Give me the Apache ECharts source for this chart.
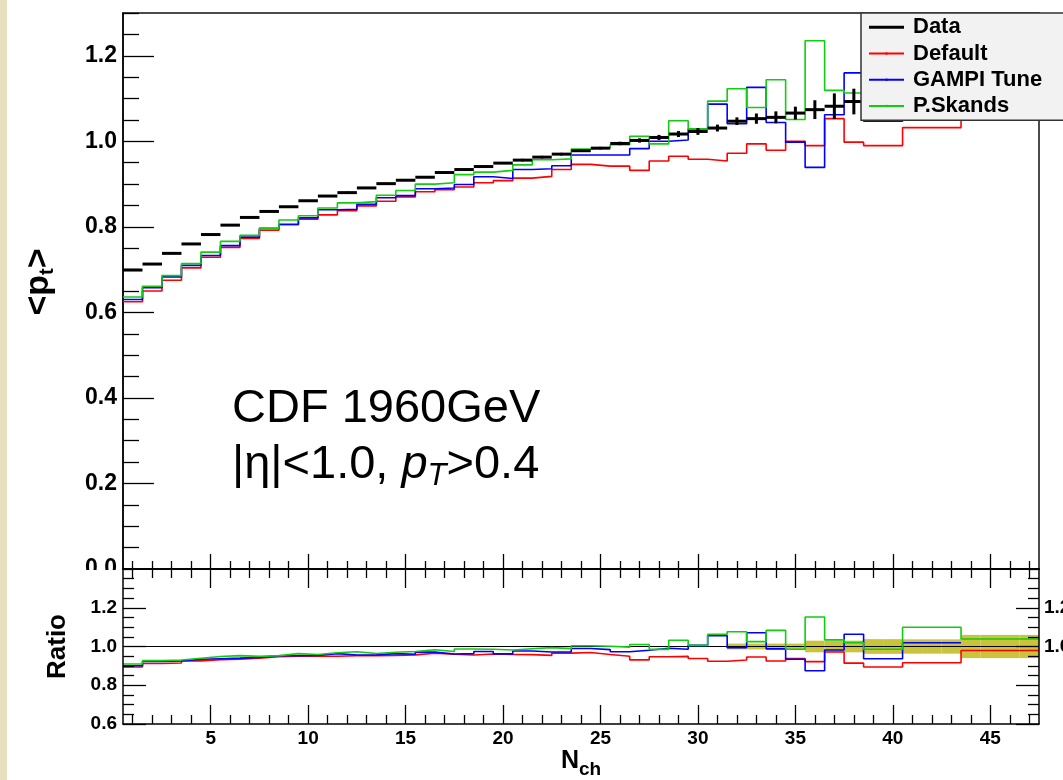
<!DOCTYPE html>
<html><head><meta charset="utf-8">
<script src="https://cdn.jsdelivr.net/npm/echarts@6/dist/echarts.min.js"></script>
<style>html,body{margin:0;padding:0;background:#fff;}#c{width:1063px;height:780px;}</style>
</head><body><div id="c"></div>
<script>
// ---- data ----
const nch = [1,2,3,4,5,6,7,8,9,10,11,12,13,14,15,16,17,18,19,20,21,22,23,24,25,26,27,28,29,30,31,32,33,34,35,36,37,38,39,40,41,42,43,44,45,46,47];
const dataVal = [0.699,0.713,0.738,0.760,0.782,0.804,0.822,0.836,0.847,0.861,
  0.872,0.880,0.891,0.901,0.909,0.916,0.927,0.934,0.941,0.949,
  0.956,0.963,0.970,0.978,0.984,0.995,1.002,1.009,1.017,1.023,
  1.031,1.047,1.053,1.056,1.066,1.074,1.082,1.093,1.103,1.110,
  1.120,1.127,1.134,1.140,1.145,1.150,1.155];
const dataErr = [0.001,0.001,0.001,0.001,0.001,0.001,0.001,0.001,0.001,0.001,
  0.002,0.002,0.002,0.002,0.002,0.002,0.002,0.002,0.002,0.002,
  0.003,0.003,0.003,0.003,0.003,0.004,0.005,0.006,0.007,0.008,
  0.008,0.009,0.012,0.014,0.015,0.022,0.030,0.030,0.035,0.040,
  0.045,0.050,0.055,0.060,0.065,0.070,0.075];
const defaultVal = [0.625,0.650,0.675,0.704,0.729,0.752,0.773,0.792,0.805,0.818,
  0.828,0.838,0.849,0.860,0.870,0.882,0.887,0.893,0.903,0.908,
  0.914,0.918,0.934,0.946,0.942,0.942,0.932,0.954,0.965,0.958,
  0.954,0.972,0.994,0.979,1.000,0.990,1.053,0.998,0.990,0.990,
  1.032,1.032,1.032,1.120,1.120,1.120,1.120];
const gampiVal = [0.630,0.658,0.683,0.710,0.733,0.756,0.776,0.796,0.806,0.821,
  0.840,0.841,0.853,0.868,0.873,0.889,0.891,0.899,0.917,0.913,
  0.934,0.936,0.943,0.968,0.968,0.968,0.983,1.000,1.003,1.029,
  1.087,1.041,1.126,1.044,0.998,0.939,1.062,1.160,1.047,1.047,
  1.148,1.148,1.148,null,null,null,null];
const skandsVal = [0.636,0.661,0.686,0.714,0.741,0.766,0.780,0.797,0.816,0.826,
  0.844,0.856,0.859,0.874,0.885,0.900,0.903,0.922,0.928,0.932,
  0.945,0.957,0.959,0.982,0.985,0.992,1.012,0.994,1.048,1.029,
  1.094,1.123,1.079,1.144,1.051,1.235,1.119,1.113,1.085,1.085,
  1.236,1.236,1.236,1.195,1.195,1.195,1.195];
const ratioDefault = [0.894,0.912,0.915,0.926,0.932,0.935,0.940,0.947,0.950,0.950,
  0.950,0.952,0.953,0.954,0.957,0.965,0.960,0.956,0.961,0.959,
  0.958,0.954,0.966,0.969,0.959,0.950,0.931,0.947,0.949,0.938,
  0.924,0.930,0.946,0.925,0.938,0.922,0.972,0.914,0.894,0.894,
  0.916,0.916,0.916,0.979,0.979,0.979,0.979];
const ratioGampi = [0.901,0.923,0.925,0.934,0.937,0.940,0.944,0.952,0.952,0.954,
  0.963,0.956,0.957,0.963,0.960,0.971,0.961,0.963,0.974,0.962,
  0.977,0.972,0.972,0.990,0.984,0.973,0.981,0.991,0.986,1.006,
  1.056,0.994,1.071,0.988,0.934,0.875,0.982,1.063,0.937,0.937,
  1.019,1.019,1.019,null,null,null,null];
const ratioSkands = [0.910,0.927,0.930,0.939,0.948,0.953,0.949,0.953,0.963,0.959,
  0.968,0.973,0.964,0.970,0.974,0.983,0.974,0.987,0.986,0.982,
  0.988,0.994,0.989,1.004,1.001,0.997,1.010,0.985,1.032,1.006,
  1.063,1.076,1.025,1.083,0.986,1.152,1.034,1.020,0.986,0.986,
  1.099,1.099,1.099,1.039,1.039,1.039,1.039];
const ratioBandErr = [0.002,0.002,0.002,0.002,0.002,0.002,0.002,0.002,0.002,0.002,
  0.002,0.002,0.002,0.002,0.002,0.002,0.002,0.002,0.002,0.002,
  0.003,0.003,0.003,0.003,0.003,0.003,0.003,0.003,0.003,0.003,
  0.003,0.015,0.015,0.015,0.015,0.030,0.030,0.030,0.038,0.038,
  0.037,0.037,0.037,0.060,0.060,0.060,0.060];
const xMajorTicks = [5,10,15,20,25,30,35,40,45];
const yMainLabels = [0.0,0.2,0.4,0.6,0.8,1.0,1.2];
const yRatioLabels = [0.6,0.8,1.0,1.2];
const yRatioRightLabels = [1.0,1.2];
const seriesNames = ['Data','Default','GAMPI Tune','P.Skands'];

// ---- helpers ----
const FONT = 'Liberation Sans, Arial, Helvetica, sans-serif';
const XMIN = nch[0] - 0.5, XMAX = nch[nch.length-1] + 0.5;
function steps(vals){
  const pts = []; let last = -1;
  vals.forEach((v,i)=>{ if (v == null) return; pts.push([nch[i]-0.5, v]); last = i; });
  if (last >= 0) pts.push([nch[last]+0.5, vals[last]]);
  return pts;
}
function minorList(lo, hi, step, majors){
  const out = [];
  const n = Math.round((hi-lo)/step);
  for (let k=0;k<=n;k++){ const v = +(lo + k*step).toFixed(3); if (!majors.some(m=>Math.abs(m-v)<1e-6)) out.push(v); }
  return out;
}
const xMinorTicks = nch.filter(n => !xMajorTicks.includes(n));
const yMainMinor = minorList(0, 1.3, 0.05, yMainLabels);
const yRatioMinor = minorList(0.6, 1.4, 0.05, yRatioLabels);

const AX = '#000';
const lab = (size) => ({fontFamily: FONT, fontWeight: 'bold', fontSize: size, color: '#000'});

function xAx(grid, pos, vals, len, opts){
  return Object.assign({
    type:'value', gridIndex:grid, position:pos, min:XMIN, max:XMAX,
    axisLine:{show:false, lineStyle:{color:AX,width:1.5}},
    axisTick:{show:true, inside:true, length:len, customValues:vals, lineStyle:{color:AX,width:1.3}},
    axisLabel:{show:false}, splitLine:{show:false}
  }, opts||{});
}
function yAx(grid, pos, min, max, vals, len, opts){
  return Object.assign({
    type:'value', gridIndex:grid, position:pos, min:min, max:max,
    axisLine:{show:false, lineStyle:{color:AX,width:1.5}},
    axisTick:{show:true, inside:true, length:len, customValues:vals, lineStyle:{color:AX,width:1.3}},
    axisLabel:{show:false}, splitLine:{show:false}
  }, opts||{});
}

const chart = echarts.init(document.getElementById('c'), null, {renderer:'canvas'});
const option = {
  animation:false,
  backgroundColor:'#fff',
  grid:[
    {left:123, top:13, width:916, height:556, show:true, borderColor:'#111', borderWidth:1.5, backgroundColor:'transparent', outerBoundsMode:'none', containLabel:false},
    {left:123, top:569, width:916, height:155, show:false, outerBoundsMode:'none', containLabel:false}
  ],
  xAxis:[
    xAx(0,'bottom',xMajorTicks,15,{axisLine:{show:true,lineStyle:{color:AX,width:1.5}}}),
    xAx(0,'bottom',xMinorTicks,8),
    xAx(1,'bottom',xMajorTicks,19,{z:5, axisLine:{show:true,lineStyle:{color:AX,width:1.5}},
      axisLabel:{show:true, customValues:xMajorTicks, margin:5, ...lab(19)},
      name:'{n|N}{c|ch}', nameLocation:'middle', nameGap:12,
      nameTextStyle:{rich:{
        n:{fontFamily:FONT,fontWeight:'bold',fontSize:25,color:'#000',lineHeight:40},
        c:{fontFamily:FONT,fontWeight:'bold',fontSize:19,color:'#000',verticalAlign:'top',padding:[19,0,0,0]}
      }}}),
    xAx(1,'bottom',xMinorTicks,9,{z:5}),
    xAx(1,'top',xMajorTicks,19,{z:5, axisLine:{show:true,lineStyle:{color:AX,width:1.5}}}),
    xAx(1,'top',xMinorTicks,9,{z:5})
  ],
  yAxis:[
    yAx(0,'left',0,1.3,yMainLabels,31,{
      axisLine:{show:true,lineStyle:{color:AX,width:1.5}},
      axisLabel:{show:true, customValues:yMainLabels, margin:6, formatter:v=>(+v).toFixed(1), ...lab(23)},
      name:'{a|<p}{t|t}{a|>}', nameLocation:'middle', nameRotate:90, nameGap:64,
      nameTextStyle:{padding:[0,0,0,18], rich:{
        a:{fontFamily:FONT,fontWeight:'bold',fontSize:34,color:'#000',lineHeight:40},
        t:{fontFamily:FONT,fontWeight:'bold',fontSize:20,color:'#000',verticalAlign:'top',padding:[18,0,0,0]}
      }}}),
    yAx(0,'left',0,1.3,yMainMinor,16),
    yAx(1,'left',0.6,1.4,yRatioLabels,23,{z:5,
      axisLine:{show:true,lineStyle:{color:AX,width:1.5}},
      axisLabel:{show:true, customValues:yRatioLabels, margin:6, formatter:v=>(+v).toFixed(1), ...lab(19)},
      name:'Ratio', nameLocation:'middle', nameRotate:90, nameGap:52,
      nameTextStyle:{fontFamily:FONT,fontWeight:'bold',fontSize:26,color:'#000'}}),
    yAx(1,'left',0.6,1.4,yRatioMinor,11,{z:5}),
    yAx(1,'right',0.6,1.4,yRatioLabels,23,{z:5,
      axisLine:{show:true,lineStyle:{color:AX,width:1.5}},
      axisLabel:{show:true, customValues:yRatioRightLabels, margin:5, formatter:v=>(+v).toFixed(1), ...lab(19)}}),
    yAx(1,'right',0.6,1.4,yRatioMinor,11,{z:5})
  ],
  legend:{
    orient:'vertical', left:861, top:13, selectedMode:false,
    data:[{name:seriesNames[0],icon:'rect'},{name:seriesNames[1]},{name:seriesNames[2]},{name:seriesNames[3]}],
    itemWidth:35, itemHeight:3, itemGap:0,
    padding:[1,8,1,7],
    backgroundColor:'#f2f2f2', borderColor:'#333', borderWidth:1.5, borderRadius:0,
    textStyle:{fontFamily:FONT, fontWeight:'bold', fontSize:22, color:'#000', lineHeight:26.3, width:143, padding:[0,0,0,4]}
  },
  graphic:[
    {type:'rect', z:1, shape:{x:0,y:570,width:1063,height:210}, style:{fill:'#fff'}},
    {type:'rect', z:20, shape:{x:0,y:0,width:7,height:780}, style:{fill:'#e7e0c0'}},
    {type:'text', z:20, x:232, y:386, style:{text:'CDF 1960GeV', font:'47px '+FONT, fill:'#000', verticalAlign:'top'}},
    {type:'text', z:20, x:232, y:437, style:{text:'{n||η|<1.0, }{i|p}{s|T}{n|>0.4}', verticalAlign:'top',
      rich:{
        n:{fontFamily:FONT,fontSize:47,fill:'#000',lineHeight:56},
        i:{fontFamily:FONT,fontSize:47,fontStyle:'italic',fill:'#000',lineHeight:56},
        s:{fontFamily:FONT,fontSize:31,fontStyle:'italic',fill:'#000',verticalAlign:'top',padding:[24,0,0,0]}
      }}}
  ],
  series:[
    {name:seriesNames[1], type:'line', xAxisIndex:0, yAxisIndex:0, step:'end', symbol:'none', z:2,
      data:steps(defaultVal), lineStyle:{color:'#ff0000',width:1.6}, itemStyle:{color:'#ff0000'}},
    {name:seriesNames[2], type:'line', xAxisIndex:0, yAxisIndex:0, step:'end', symbol:'none', z:2,
      data:steps(gampiVal), lineStyle:{color:'#0000ff',width:1.6}, itemStyle:{color:'#0000ff'}},
    {name:seriesNames[3], type:'line', xAxisIndex:0, yAxisIndex:0, step:'end', symbol:'none', z:2,
      data:steps(skandsVal), lineStyle:{color:'#11cc11',width:1.6}, itemStyle:{color:'#11cc11'}},
    {name:seriesNames[0], type:'custom', xAxisIndex:0, yAxisIndex:0, z:3,
      itemStyle:{color:'#000'},
      encode:{x:0,y:1},
      data:nch.map((n,i)=>[n,dataVal[i],dataErr[i]]),
      renderItem:(params,api)=>{
        const n=api.value(0), v=api.value(1), e=api.value(2);
        const l=api.coord([n-0.5,v]), r=api.coord([n+0.5,v]);
        const t=api.coord([n,v+e]), b=api.coord([n,v-e]);
        return {type:'group', children:[
          {type:'line', shape:{x1:l[0],y1:l[1],x2:r[0],y2:r[1]}, style:{stroke:'#000',lineWidth:3}},
          {type:'line', shape:{x1:t[0],y1:t[1],x2:b[0],y2:b[1]}, style:{stroke:'#000',lineWidth:3}}
        ]};
      }},
    {name:'Data uncertainty', type:'custom', xAxisIndex:2, yAxisIndex:2, z:2,
      itemStyle:{color:'#c9c43b'}, encode:{x:0,y:1},
      data:nch.map((n,i)=>[n,1,ratioBandErr[i]]),
      renderItem:(params,api)=>{
        const n=api.value(0), c=api.value(1), e=api.value(2);
        const p1=api.coord([n-0.5,c+e]), p2=api.coord([n+0.5,c-e]);
        return {type:'rect', shape:{x:p1[0],y:p1[1],width:p2[0]-p1[0],height:p2[1]-p1[1]}, style:{fill:'#c9c43b'}};
      }},
    {name:'Data ratio', type:'line', xAxisIndex:2, yAxisIndex:2, symbol:'none', z:3,
      data:[[XMIN,1],[XMAX,1]], lineStyle:{color:'#000',width:1.2}},
    {name:'Default ratio', type:'line', xAxisIndex:2, yAxisIndex:2, step:'end', symbol:'none', z:4,
      data:steps(ratioDefault), lineStyle:{color:'#ff0000',width:1.6}},
    {name:'GAMPI ratio', type:'line', xAxisIndex:2, yAxisIndex:2, step:'end', symbol:'none', z:4,
      data:steps(ratioGampi), lineStyle:{color:'#0000ff',width:1.6}},
    {name:'Skands ratio', type:'line', xAxisIndex:2, yAxisIndex:2, step:'end', symbol:'none', z:4,
      data:steps(ratioSkands), lineStyle:{color:'#11cc11',width:1.6}}
  ]
};
chart.setOption(option);
</script></body></html>
